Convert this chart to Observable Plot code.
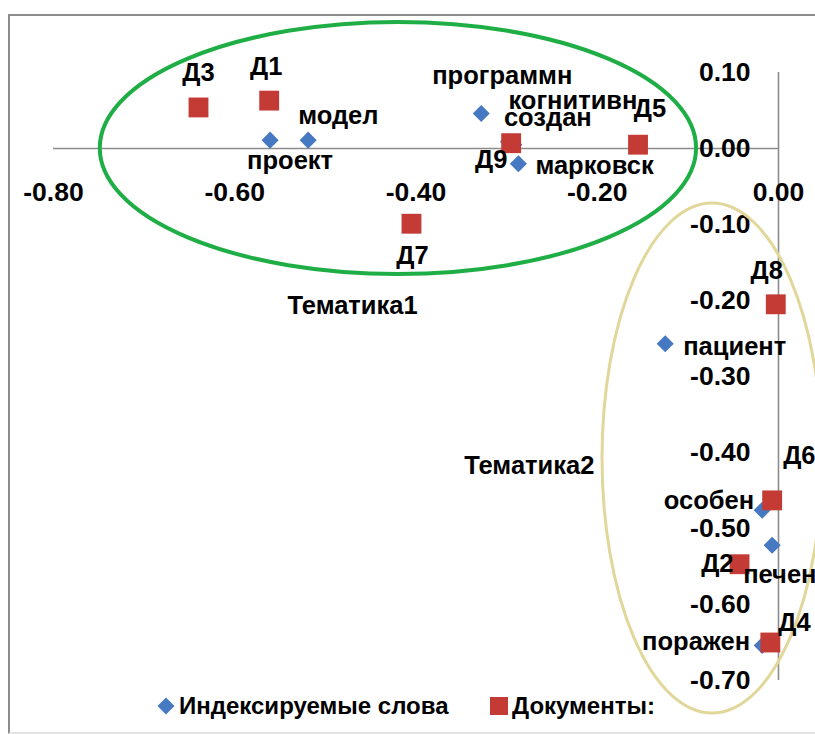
<!DOCTYPE html>
<html>
<head>
<meta charset="utf-8">
<script src="https://cdn.jsdelivr.net/npm/d3@7"></script>
<script src="https://cdn.jsdelivr.net/npm/@observablehq/plot@0.6"></script>
<style>
  html, body { margin: 0; padding: 0; background: #fff; }
  #wrap { position: relative; width: 815px; height: 734px; overflow: hidden;
          font-family: "Liberation Sans", Arial, sans-serif; }
  #frame { position: absolute; left: 8px; top: 14px; width: 900px; height: 716px;
           border: 2px solid #8c8c8c; border-bottom-color: #e2e2e2; }
  #chart { position: absolute; left: 0; top: 0; }
  #chart svg { overflow: visible; }
  #legend { position: absolute; left: 0; top: 690px; width: 815px; height: 32px;
            font-weight: bold; font-size: 24px; color: #000; }
  .li { position: absolute; top: 0; display: flex; align-items: center; height: 32px; white-space: nowrap; }
  .li svg { margin-right: 3px; }
</style>
</head>
<body>
<div id="wrap">
  <div id="frame"></div>
  <div id="legend"></div>
  <div id="chart"></div>
</div>
<script>
// ---- data ----
const docNames = ["Д1", "Д2", "Д3", "Д4", "Д5", "Д6", "Д7", "Д8", "Д9"];
const docX     = [-0.562, -0.043, -0.640, -0.009, -0.155, -0.007, -0.405, -0.003, -0.295];
const docY     = [ 0.063, -0.547,  0.054, -0.650,  0.005, -0.463, -0.099, -0.205,  0.007];

const wordNames = ["проект", "модел", "программн", "когнитивн", "создан", "марковск", "пациент", "особен", "печен", "поражен"];
const wordX     = [-0.561, -0.519, -0.328, -0.298, -0.292, -0.287, -0.125, -0.018, -0.007, -0.018];
const wordY     = [ 0.011,  0.011,  0.046,  0.009,  0.005, -0.020, -0.257, -0.476, -0.522, -0.654];

const xTicks = [-0.80, -0.60, -0.40, -0.20, 0.00];
const yTicks = [0.10, 0.00, -0.10, -0.20, -0.30, -0.40, -0.50, -0.60, -0.70];

const seriesNames = ["Индексируемые слова", "Документы:"];

// topic annotations (ellipse centre / radii in data units, and label positions)
const topicNames = ["Тематика1", "Тематика2"];
const topicCx = [-0.4194, -0.0728];
const topicCy = [ 0.000, -0.408];
const topicRx = [ 0.329,  0.1214];
const topicRy = [ 0.1658, 0.3355];
const topicLabelX = [-0.470, -0.275];
const topicLabelY = [-0.2066, -0.417];

// ---- layout of point labels (pixel offsets, anchor) ----
const labelLayout = {
  "Д1": [-3, -34, "middle"], "Д2": [-6, 0, "end"], "Д3": [0, -35, "middle"],
  "Д4": [8, -20, "start"], "Д5": [12, -36, "middle"], "Д6": [11, -45, "start"],
  "Д7": [1, 32, "middle"], "Д8": [-9, -33, "middle"], "Д9": [-20, 17, "middle"],
  "проект": [20, 21, "middle"], "модел": [-10, -24, "start"], "программн": [21, -38, "middle"],
  "когнитивн": [0, -41, "start"], "создан": [-10, -27, "start"], "марковск": [17, 2, "start"],
  "пациент": [18, 3, "start"], "особен": [-8, -9, "end"], "печен": [-29, 30, "start"],
  "поражен": [-12, -4, "end"]
};

// ---- styles ----
const RED = "#c43a35", BLUE = "#4679c2", AXIS = "#8c8c8c";
const GREEN = "#1fae45", KHAKI = "#e2d79a";
const FONT = "Liberation Sans, Arial, sans-serif";

const docs = docNames.map((n, i) => ({name: n, x: docX[i], y: docY[i]}));
const words = wordNames.map((n, i) => ({name: n, x: wordX[i], y: wordY[i]}));
const topics = topicNames.map((n, i) => ({name: n, cx: topicCx[i], cy: topicCy[i], rx: topicRx[i], ry: topicRy[i], lx: topicLabelX[i], ly: topicLabelY[i]}));

const topicColors = [GREEN, KHAKI];
const topicWidths = [4, 3];

// ellipse annotation as a render-function mark using Plot's scales
function ellipseMark(t, color, width) {
  return (index, scales) => {
    const svgNS = "http://www.w3.org/2000/svg";
    const g = document.createElementNS(svgNS, "g");
    const e = document.createElementNS(svgNS, "ellipse");
    const cx = scales.x(t.cx), cy = scales.y(t.cy);
    const rx = Math.abs(scales.x(t.cx + t.rx) - cx);
    const ry = Math.abs(scales.y(t.cy + t.ry) - cy);
    e.setAttribute("cx", cx); e.setAttribute("cy", cy);
    e.setAttribute("rx", rx); e.setAttribute("ry", ry);
    e.setAttribute("fill", "none");
    e.setAttribute("stroke", color);
    e.setAttribute("stroke-width", width);
    g.appendChild(e);
    return g;
  };
}

function labelMarks(data) {
  return data.map(d => {
    const [dx, dy, anchor] = labelLayout[d.name];
    return Plot.text([d], {x: "x", y: "y", text: "name", dx, dy, textAnchor: anchor,
      fontSize: 25.5, fontWeight: "bold", fill: "#000", fontFamily: FONT});
  });
}

const chart = Plot.plot({
  width: 815,
  height: 690,
  margin: 0,
  style: {background: "transparent", fontFamily: FONT, overflow: "visible"},
  x: {domain: [-0.8, 0], range: [53, 778], axis: null},
  y: {domain: [-0.7, 0.1], range: [680, 72], axis: null},
  marks: [
    // axes crossing at origin
    Plot.ruleY([0], {x1: -0.8, x2: 0, stroke: AXIS, strokeWidth: 1.6}),
    Plot.ruleX([0], {y1: -0.7, y2: 0.1, stroke: AXIS, strokeWidth: 1.6}),
    // tick labels
    Plot.text(xTicks, {x: d => d, y: 0, dy: 44, text: d => d.toFixed(2),
      fontSize: 26.5, fontWeight: "bold", fill: "#000", fontFamily: FONT}),
    Plot.text(yTicks, {x: 0, y: d => d, dx: -28, textAnchor: "end", text: d => d.toFixed(2),
      fontSize: 26.5, fontWeight: "bold", fill: "#000", fontFamily: FONT}),
    // topic ellipses
    ...topics.map((t, i) => ellipseMark(t, topicColors[i], topicWidths[i])),
    // series
    Plot.dot(words, {x: "x", y: "y", symbol: "square", r: 6.8, rotate: 45, fill: BLUE, stroke: "none"}),
    Plot.dot(docs, {x: "x", y: "y", symbol: "square", r: 11.2, fill: RED, stroke: "none"}),
    // labels
    ...labelMarks(words),
    ...labelMarks(docs),
    Plot.text(topics, {x: "lx", y: "ly", text: "name", fontSize: 25.5, fontWeight: "bold", fill: "#000", fontFamily: FONT})
  ]
});
document.getElementById("chart").appendChild(chart);

// legend (HTML, below the chart svg)
const legend = document.getElementById("legend");
const legendLeft = [156, 489];
seriesNames.forEach((name, i) => {
  const item = document.createElement("div");
  item.className = "li";
  item.style.left = legendLeft[i] + "px";
  const sym = i === 0
    ? `<svg width="20" height="20"><rect x="4" y="4" width="12" height="12" fill="${BLUE}" transform="rotate(45 10 10)"/></svg>`
    : `<svg width="20" height="20"><rect x="1" y="1" width="18" height="18" fill="${RED}"/></svg>`;
  item.innerHTML = sym + `<span>${name}</span>`;
  legend.appendChild(item);
});
</script>
</body>
</html>
